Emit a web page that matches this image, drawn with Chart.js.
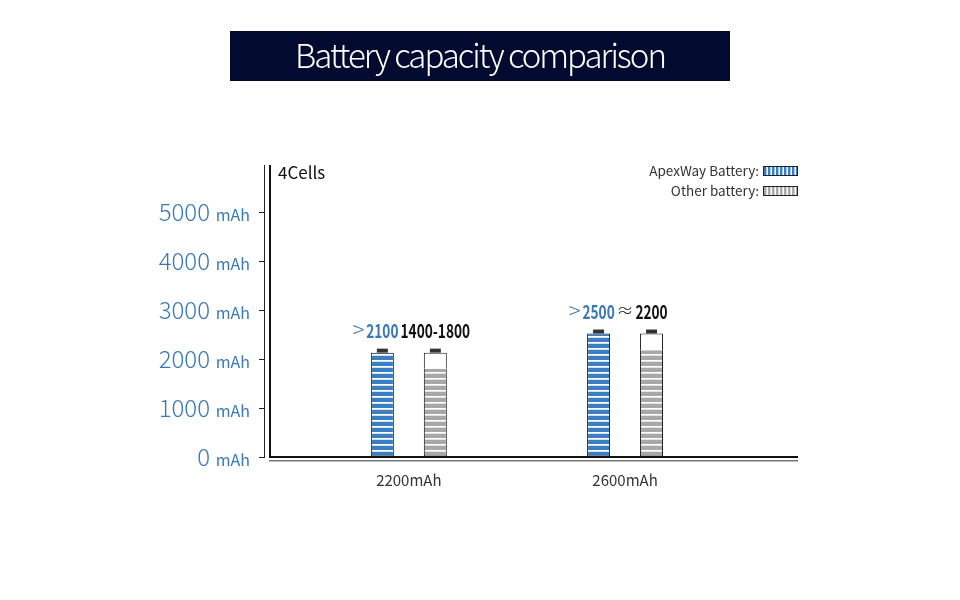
<!DOCTYPE html>
<html><head><meta charset="utf-8">
<script src="https://cdn.jsdelivr.net/npm/chart.js@4.4.0/dist/chart.umd.min.js"></script>
<style>html,body{margin:0;padding:0;background:#fff}#wrap{width:960px;height:600px;position:relative}</style>
</head><body><div id="wrap"><canvas id="c" width="960" height="600"></canvas></div>
<script>
// ---- data ----
const chartTitle = 'Battery capacity comparison';
const cellLabel = '4Cells';
const categories = ['2200mAh', '2600mAh'];
const categoryPositions = [1, 2];
const apexValues = [2130, 2520];
const otherShell = [2130, 2520];
const otherFill = [1800, 2180];
const apexPrefix = ['>', '>'];
const apexLabels = ['2100', '2500'];
const otherPrefix = ['', '≈'];
const otherLabels = ['1400-1800', '2200'];
const yTicks = [0, 1000, 2000, 3000, 4000, 5000];
const seriesNames = ['ApexWay Battery', 'Other battery'];

// ---- styles ----
const BLUE = '#3b7fc2', BLUE_TXT = '#3a79b6', GRAY = '#a8a8a8', EDGE = '#1f1f1f';
const SANS = '"Noto Sans CJK SC", "Noto Sans", sans-serif';

const canvas = document.getElementById('c');
const ctx0 = canvas.getContext('2d');
function hStripe(color, mid) {
  const t = document.createElement('canvas'); t.width = 4; t.height = 6;
  const g = t.getContext('2d');
  g.fillStyle = '#ffffff'; g.fillRect(0, 0, 4, 6);
  g.fillStyle = mid; g.fillRect(0, 1, 4, 1);
  g.fillStyle = color; g.fillRect(0, 2, 4, 4);
  return ctx0.createPattern(t, 'repeat');
}
function vStripe(color, mid) {
  const t = document.createElement('canvas'); t.width = 4; t.height = 4;
  const g = t.getContext('2d');
  g.fillStyle = '#ffffff'; g.fillRect(0, 0, 4, 4);
  g.fillStyle = color; g.fillRect(0, 0, 2, 4);
  g.fillStyle = mid; g.fillRect(2, 0, 1, 4);
  return ctx0.createPattern(t, 'repeat');
}
const bluePat = hStripe(BLUE, '#cfe0f1');
const grayPat = hStripe(GRAY, '#e2e2e2');
const blueV = vStripe(BLUE, '#a9c8e6');
const grayV = vStripe(GRAY, '#d6d6d6');

const barCommon = { barPercentage: 0.434, categoryPercentage: 0.49, borderColor: EDGE, borderSkipped: false };

function narrowText(c, txt, x, y, squeeze) {
  c.save();
  c.translate(x, y);
  c.scale(squeeze, 1);
  c.fillText(txt, 0, 0);
  c.restore();
}

const decor = {
  id: 'decor',
  beforeDraw(chart) {
    const c = chart.ctx;
    c.save();
    c.fillStyle = '#020b2f';
    c.fillRect(chart.width / 2 - 250, 31, 500, 50);
    c.fillStyle = '#ffffff';
    c.font = '300 33px ' + SANS;
    c.textAlign = 'center'; c.textBaseline = 'middle';
    try { c.letterSpacing = '-2px'; } catch (e) {}
    c.fillText(chartTitle, chart.width / 2, 55);
    c.restore();
  },
  afterDatasetsDraw(chart) {
    const c = chart.ctx, a = chart.chartArea;
    c.save();
    // frame lines
    c.fillStyle = '#111';
    c.fillRect(a.left + 5, a.top, 2, a.bottom - a.top + 1);
    c.fillRect(a.left + 5, a.bottom - 1, a.right - a.left - 5, 2);
    c.fillStyle = '#777';
    c.fillRect(a.left + 5, a.bottom + 3, a.right - a.left - 5, 1.5);
    // caps + value labels
    const tops = [chart.getDatasetMeta(0), chart.getDatasetMeta(2)];
    const pre = [apexPrefix, otherPrefix], lab = [apexLabels, otherLabels], col = [BLUE_TXT, '#111'];
    const preSize = [22, 17];
    const SQ = 0.72;
    tops.forEach((meta, k) => {
      meta.data.forEach((el, i) => {
        c.fillStyle = '#333';
        c.fillRect(el.x - 5.5, el.y - 4, 11, 4);
        const ty = el.y - 4 - 18;
        c.textBaseline = 'middle';
        c.font = 'bold 19px ' + SANS;
        c.fillStyle = col[k];
        c.textAlign = 'center';
        const txt = lab[k][i];
        narrowText(c, txt, el.x, ty, SQ);
        const w = c.measureText(txt).width * SQ;
        if (pre[k][i]) {
          c.font = '300 ' + preSize[k] + 'px ' + SANS;
          c.textAlign = 'right';
          c.fillText(pre[k][i], el.x - w / 2 - 2, ty - 1);
        }
      });
    });
    // cell label
    c.fillStyle = '#111'; c.font = '17px ' + SANS; c.textAlign = 'left'; c.textBaseline = 'middle';
    c.fillText(cellLabel, a.left + 14, a.top + 8);
    // legend
    c.font = '13.5px ' + SANS; c.textAlign = 'right'; c.fillStyle = '#333';
    const sw = [blueV, grayV];
    seriesNames.forEach((n, i) => {
      const cy = a.top + 6 + i * 20;
      c.fillText(n + ':', a.right - 39, cy);
      c.fillStyle = sw[i]; c.fillRect(a.right - 35, cy - 5, 35, 10);
      c.strokeStyle = '#222'; c.lineWidth = 1; c.strokeRect(a.right - 34.5, cy - 4.5, 34, 9);
      c.fillStyle = '#333';
    });
    c.restore();
  }
};

const yCommon = { type: 'linear', min: 0, max: 5960, afterBuildTicks: s => { s.ticks = yTicks.map(v => ({ value: v })); } };

new Chart(canvas, {
  type: 'bar',
  data: {
    datasets: [
      Object.assign({ label: seriesNames[0], stack: 'apex', data: categoryPositions.map((x, i) => ({ x, y: apexValues[i] })), backgroundColor: bluePat, borderWidth: 1 }, barCommon),
      Object.assign({ label: seriesNames[1], stack: 'other', data: categoryPositions.map((x, i) => ({ x, y: otherFill[i] })), backgroundColor: grayPat, borderWidth: { left: 1, right: 1, bottom: 1, top: 0 } }, barCommon),
      Object.assign({ label: seriesNames[1] + ' shell', stack: 'other', data: categoryPositions.map((x, i) => ({ x, y: otherShell[i] - otherFill[i] })), backgroundColor: '#ffffff', borderWidth: { left: 1, right: 1, top: 1, bottom: 0 } }, barCommon)
    ]
  },
  options: {
    responsive: false, animation: false, events: [],
    layout: { padding: { top: 165, right: 162, left: 144, bottom: 0 } },
    plugins: { legend: { display: false }, tooltip: { enabled: false }, title: { display: false } },
    scales: {
      x: {
        type: 'linear', min: 0.33, max: 2.80, offset: false,
        afterBuildTicks: s => { s.ticks = categoryPositions.map(v => ({ value: v })); },
        afterFit: s => { s.height = 143; },
        grid: { display: false, drawTicks: false, offset: false }, border: { display: false },
        ticks: { autoSkip: false, maxRotation: 0, padding: 14, color: '#333', font: { family: SANS, size: 15 }, callback: (v, i) => categories[i] }
      },
      y: Object.assign({
        position: 'left', stacked: true, weight: 0,
        afterFit: s => { s.width = 50; },
        grid: { drawOnChartArea: false, drawTicks: true, tickLength: 5, color: '#222' },
        border: { display: true, color: '#222', width: 1 },
        ticks: { padding: 9, labelOffset: 3, color: BLUE_TXT, font: { family: SANS, size: 16 }, callback: () => 'mAh' }
      }, yCommon),
      yNum: Object.assign({
        position: 'left', weight: 1,
        afterFit: s => { s.width = 70; },
        grid: { display: false, drawTicks: false }, border: { display: false },
        ticks: { padding: 4, color: BLUE_TXT, font: { family: SANS, size: 24, weight: '300' }, callback: v => String(v) }
      }, yCommon)
    }
  },
  plugins: [decor]
});
</script></body></html>
